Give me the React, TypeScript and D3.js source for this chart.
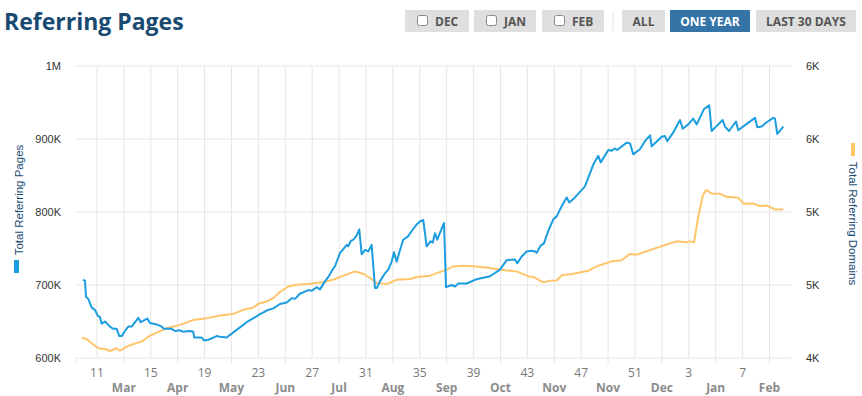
import React from "react";
import * as d3 from "d3";

// week numbers run on past 52 into the next year (53 = week 1)
const pagesSeries: [number, number][] = [
  [9.94, 707], [10.11, 706], [10.18, 684], [10.35, 681], [10.61, 669], [10.85, 666],
  [11.05, 658], [11.22, 656], [11.35, 647], [11.59, 650], [11.97, 643], [12.19, 640],
  [12.46, 640], [12.66, 630], [12.84, 630], [13.08, 637], [13.33, 643], [13.58, 643],
  [14.07, 655], [14.25, 649], [14.74, 654], [14.94, 648], [15.44, 646], [15.81, 643],
  [15.98, 640], [16.55, 640], [16.8, 637], [17.17, 638], [17.37, 636], [17.91, 637],
  [18.16, 636], [18.23, 628], [18.78, 628], [18.98, 624], [19.28, 625], [19.9, 630],
  [20.14, 629], [20.64, 628], [21.63, 642], [22.13, 649], [23.12, 660], [23.62, 665],
  [24.11, 668], [24.61, 674], [25.1, 676], [25.48, 682], [25.72, 681], [26.09, 688],
  [26.46, 691], [26.71, 693], [26.96, 692], [27.33, 697], [27.58, 694], [27.95, 705],
  [28.2, 711], [28.45, 719], [28.7, 726], [29.07, 744], [29.31, 749], [29.57, 755],
  [29.68, 753], [29.86, 760], [30.06, 762], [30.31, 768], [30.5, 776], [30.68, 742],
  [30.93, 748], [31.17, 746], [31.42, 755], [31.67, 696], [31.8, 696], [32.04, 705],
  [32.41, 716], [32.66, 721], [32.91, 732], [33.08, 745], [33.28, 732], [33.53, 748],
  [33.77, 762], [34.14, 767], [34.52, 777], [34.77, 783], [35.01, 787], [35.26, 789],
  [35.51, 753], [35.81, 760], [35.96, 758], [36.13, 771], [36.3, 762], [36.8, 785],
  [36.95, 697], [37.37, 700], [37.62, 698], [37.86, 702], [38.49, 702], [39.23, 708],
  [40.22, 712], [40.96, 721], [41.46, 734], [42.08, 735], [42.25, 730], [42.58, 739],
  [42.95, 746], [43.32, 747], [43.57, 746], [43.69, 744], [43.99, 754], [44.23, 757],
  [44.55, 774], [44.93, 790], [45.18, 794], [45.55, 808], [45.92, 820], [46.12, 813],
  [46.54, 820], [47.28, 835], [47.53, 847], [47.9, 865], [48.27, 877], [48.45, 868],
  [49.02, 885], [49.27, 884], [49.51, 887], [49.68, 885], [50.38, 895], [50.63, 894],
  [50.87, 879], [51.37, 886], [51.74, 897], [52.12, 905], [52.24, 890], [52.99, 903],
  [53.23, 904], [53.4, 897], [53.85, 909], [54.35, 926], [54.55, 914], [54.96, 920],
  [55.33, 928], [55.59, 920], [56.13, 941], [56.52, 946], [56.7, 911], [57.08, 918],
  [57.52, 926], [57.69, 917], [57.99, 911], [58.51, 924], [58.68, 912], [59.18, 919],
  [59.92, 929], [60.09, 916], [60.42, 917], [60.79, 923], [61.28, 929], [61.41, 928],
  [61.58, 907], [62.03, 917],
];

const domainsSeries: [number, number][] = [
  [9.86, 4140], [10.23, 4129], [10.61, 4101], [11.1, 4067], [11.59, 4062], [11.97, 4048],
  [12.46, 4067], [12.71, 4050], [13.21, 4078], [13.7, 4096], [14.32, 4112], [14.81, 4146],
  [15.44, 4174], [16.18, 4204], [17.17, 4227], [18.16, 4261], [19.16, 4273], [20.39, 4295],
  [21.13, 4302], [21.88, 4330], [22.62, 4346], [22.99, 4371], [23.62, 4387], [24.11, 4410],
  [24.55, 4449], [25.22, 4490], [25.85, 4502], [26.84, 4509], [27.83, 4520], [28.57, 4536],
  [29.31, 4564], [30.18, 4593], [30.8, 4577], [31.3, 4548], [31.8, 4513], [32.54, 4506],
  [33.28, 4536], [34.27, 4541], [34.77, 4555], [35.76, 4564], [37.0, 4605], [37.49, 4627],
  [38.23, 4632], [39.23, 4627], [40.22, 4616], [40.96, 4605], [42.2, 4593], [43.07, 4559],
  [43.44, 4555], [44.18, 4518], [44.68, 4529], [45.18, 4531], [45.55, 4566], [46.41, 4577],
  [47.53, 4598], [48.27, 4632], [49.27, 4662], [50.01, 4669], [50.63, 4713], [51.13, 4708],
  [51.87, 4731], [52.61, 4754], [53.36, 4777], [54.1, 4799], [54.84, 4792], [55.09, 4799],
  [55.39, 4792], [55.71, 4971], [56.03, 5109], [56.28, 5150], [56.7, 5127], [57.32, 5125],
  [57.82, 5104], [58.68, 5098], [59.1, 5056], [59.8, 5058], [60.29, 5040], [60.79, 5045],
  [61.41, 5017], [62.03, 5017],
];

const weekTicks = [11, 15, 19, 23, 27, 31, 35, 39, 43, 47, 51, 55, 59];
const monthTicks = [13, 17, 21, 25, 29, 33, 37, 41, 45, 49, 53, 57, 61];
const monthLabels = ["Mar", "Apr", "May", "Jun", "Jul", "Aug", "Sep", "Oct", "Nov", "Nov", "Dec", "Jan", "Feb"];
const pagesTicks = [600, 700, 800, 900, 1000];
const domainsTicks = [4000, 4500, 5000, 5500, 6000];

const monthButtons = ["DEC", "JAN", "FEB"];
const rangeButtons = ["ALL", "ONE YEAR", "LAST 30 DAYS"];
const activeRange = "ONE YEAR";

const BLUE = "#1b9de0";
const ORANGE = "#ffc56a";
const NAVY = "#184a72";
const GRID = "#e6e6e6";
const FONT = "'Open Sans', sans-serif";
const AXIS_FONT = "'Liberation Sans', Arial, sans-serif";

const left = 76, right = 791, top = 66, bottom = 358;

export default function App() {
  const x = d3.scaleLinear().domain([9.44, 62.6]).range([left, right]);
  const yPages = d3.scaleLinear().domain([600, 1000]).range([bottom, top]);
  const yDomains = d3.scaleLinear().domain([4000, 6000]).range([bottom, top]);

  const gridWeeks = d3.range(11, 62, 2);

  const pagesLine = d3.line<[number, number]>()
    .x((d) => x(d[0]))
    .y((d) => yPages(d[1]));
  const domainsLine = d3.line<[number, number]>()
    .x((d) => x(d[0]))
    .y((d) => yDomains(d[1]));

  const fmtPages = (v: number) => (v >= 1000 ? `${v / 1000}M` : `${v}K`);
  const fmtDomains = (v: number) => `${Math.round(v / 1000)}K`;

  const monthBtnX = [405, 474, 542];
  const monthBtnW = [64, 62, 62];
  const rangeBtnX = [622, 670, 756];
  const rangeBtnW = [43, 80, 100];

  return (
    <svg width={862} height={396} style={{ position: "absolute", left: 0, top: 0 }}>
      <text x={4} y={30} fontFamily={FONT} fontWeight={700} fontSize={23} fill={NAVY}>
        Referring Pages
      </text>

      {monthButtons.map((label, i) => (
        <g key={label}>
          <rect x={monthBtnX[i]} y={10} width={monthBtnW[i]} height={22} fill="#dfdfdf" />
          <rect x={monthBtnX[i] + 12.5} y={15.5} width={10} height={10} rx={2} fill="#fff" stroke="#8a8a8a" />
          <text x={monthBtnX[i] + 30} y={25.5} fontFamily={FONT} fontWeight={700} fontSize={12} fill="#555">
            {label}
          </text>
        </g>
      ))}
      <line x1={613} x2={613} y1={11} y2={31} stroke="#e2e2e2" />
      {rangeButtons.map((label, i) => (
        <g key={label}>
          <rect x={rangeBtnX[i]} y={10} width={rangeBtnW[i]} height={22}
            fill={label === activeRange ? "#3574a6" : "#dfdfdf"} />
          <text x={rangeBtnX[i] + rangeBtnW[i] / 2} y={25.5} textAnchor="middle" fontFamily={FONT}
            fontWeight={700} fontSize={12} fill={label === activeRange ? "#fff" : "#555"}>
            {label}
          </text>
        </g>
      ))}

      {pagesTicks.map((t) => (
        <line key={t} x1={left} x2={right} y1={yPages(t)} y2={yPages(t)} stroke={GRID} />
      ))}
      {gridWeeks.map((w) => (
        <line key={w} x1={x(w)} x2={x(w)} y1={top} y2={bottom} stroke={GRID} />
      ))}
      {[left, ...monthTicks.map((w) => x(w))].map((px, i) => (
        <line key={i} x1={px} x2={px} y1={bottom} y2={bottom + 6} stroke={GRID} />
      ))}

      <path d={domainsLine(domainsSeries) ?? ""} fill="none" stroke={ORANGE} strokeWidth={2}
        strokeLinejoin="round" />
      <path d={pagesLine(pagesSeries) ?? ""} fill="none" stroke={BLUE} strokeWidth={2}
        strokeLinejoin="round" />

      {pagesTicks.map((t) => (
        <text key={t} x={61} y={yPages(t) + 4} textAnchor="end" fontFamily={AXIS_FONT}
          fontSize={11} fill="#333">
          {fmtPages(t)}
        </text>
      ))}
      {domainsTicks.map((t) => (
        <text key={t} x={806} y={yDomains(t) + 4} fontFamily={AXIS_FONT} fontSize={11} fill="#333">
          {fmtDomains(t)}
        </text>
      ))}

      {weekTicks.map((w) => (
        <text key={w} x={x(w)} y={377} textAnchor="middle" fontFamily={FONT} fontSize={12} fill="#777">
          {w > 52 ? w - 52 : w}
        </text>
      ))}
      {monthTicks.map((w, i) => (
        <text key={w} x={x(w)} y={392} textAnchor="middle" fontFamily={FONT} fontWeight={700}
          fontSize={12} fill="#8c8c8c">
          {monthLabels[i]}
        </text>
      ))}

      <g transform="translate(18.5,200) rotate(-90)">
        <text x={0} y={4} textAnchor="middle" fontFamily={AXIS_FONT} fontSize={11.5} fill={NAVY}>
          Total Referring Pages
        </text>
      </g>
      <rect x={14} y={260} width={5} height={13} fill={BLUE} />

      <g transform="translate(853,223.5) rotate(90)">
        <text x={0} y={4} textAnchor="middle" fontFamily={AXIS_FONT} fontSize={11.5} fill={NAVY}>
          Total Referring Domains
        </text>
      </g>
      <rect x={851} y={143} width={4} height={13} fill={ORANGE} />
    </svg>
  );
}
